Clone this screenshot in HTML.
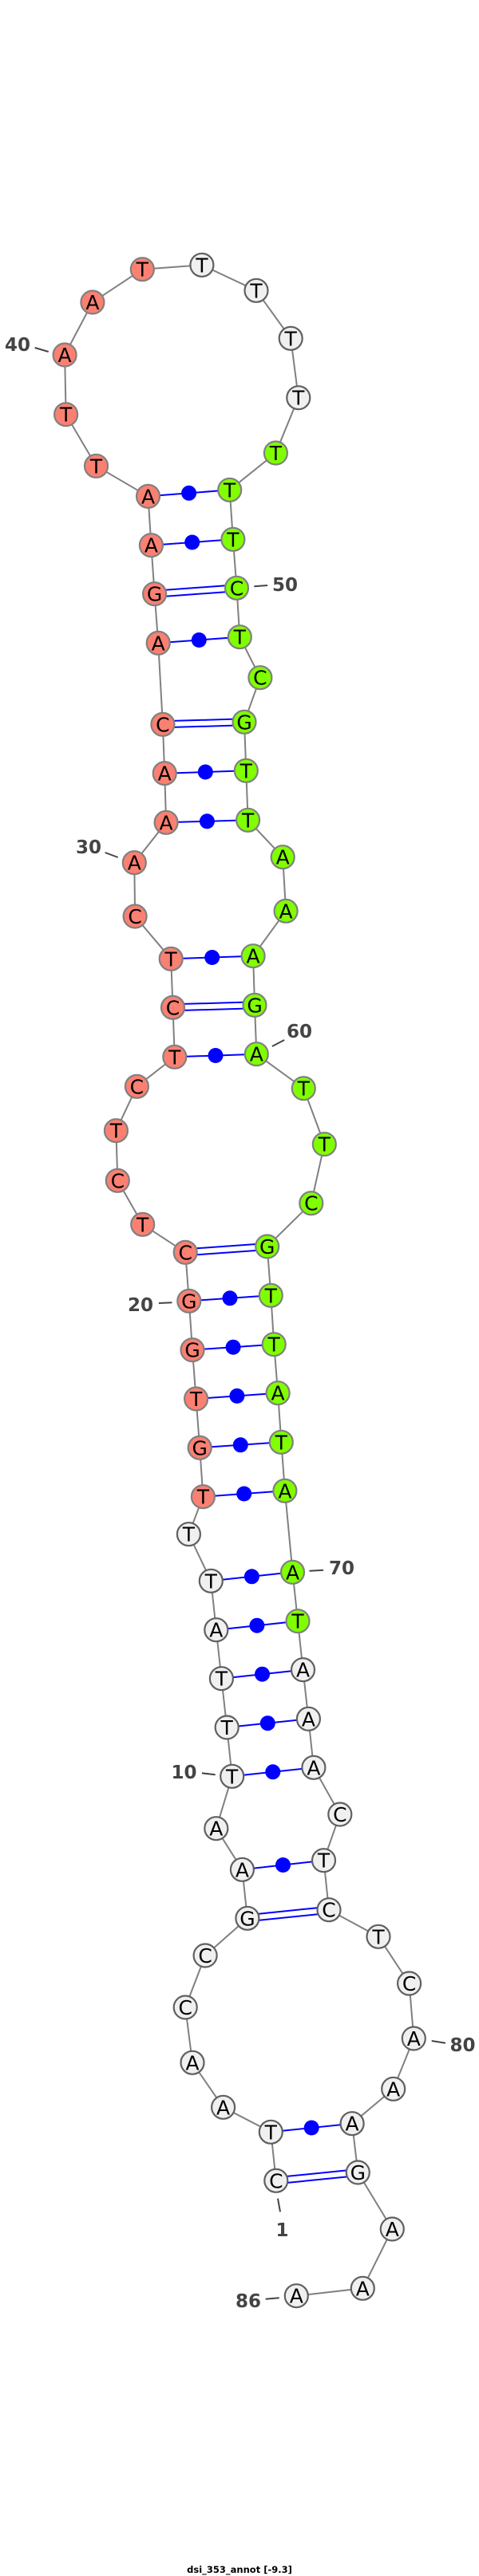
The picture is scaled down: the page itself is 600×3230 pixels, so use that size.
<!DOCTYPE html>
<html><head><meta charset="utf-8"><style>
html,body{margin:0;padding:0;background:#fff}
svg{display:block}
.n{font:25px "DejaVu Sans",sans-serif;text-anchor:middle;fill:#000}
.l{font:bold 23px "DejaVu Sans",sans-serif;text-anchor:middle;fill:#444}
.s circle{fill:#FA8072;stroke:#808080;stroke-width:2.2}
.g circle{fill:#7FFF00;stroke:#808080;stroke-width:2.2}
.w circle{fill:#F0F0F0;stroke:#606060;stroke-width:2.2}
</style></head><body>
<svg xmlns="http://www.w3.org/2000/svg" width="600" height="3230" viewBox="0 0 600 3230">
<rect width="600" height="3230" fill="#fff"/>
<polyline fill="none" stroke="#808080" stroke-width="2" points="345.8,2734.3 339.3,2673.3 279.6,2642.3 241,2586.3 232.2,2517 257.1,2452 309.9,2405.3 303.4,2344.3 270.8,2292.7 290.7,2227.3 284.2,2166 277.4,2104.7 270.8,2043.7 264.3,1982.3 236.4,1923.7 254.4,1876.7 250.2,1815.3 245.6,1754 241,1692.7 236.8,1631.3 232.2,1570.3 178.7,1535.3 147.3,1480.3 145.4,1417.7 171.4,1362.3 218.8,1325.3 216.5,1263.3 214.2,1202.3 169.1,1149 168.3,1081.7 208.1,1031.3 206.2,969.7 203.9,908.3 198.2,806.3 193.6,744.7 189.4,683.7 185.5,622.3 120.5,584.3 82.6,519.7 81.1,445 115.9,379 178.3,337.7 252.9,332.3 321,364.3 364.2,424.3 373.8,498.7 345.4,568 287.7,614.3 291.9,676.3 296.5,737.3 300.3,798.7 325.9,849.7 306,905.3 308.3,966.3 310.6,1028.3 354.2,1074.7 358.1,1142.3 317.1,1198.7 319,1260.3 321.3,1321.7 380.3,1364.7 406.3,1434.7 389.8,1508.7 334.7,1563 339.3,1624.3 343.2,1685.7 348.1,1746.7 352.3,1808.3 356.9,1869.3 366.5,1971.3 373,2032.7 379.5,2093.7 386.4,2155.3 392.9,2216.3 425.8,2275 405.5,2332.7 412,2394.7 474,2428.3 512.6,2487 518.3,2556 492.7,2619.3 441.1,2662.7 448.3,2724 491.3,2795 454.3,2869.3 371.3,2878.7"/>
<g stroke="#0000FF" stroke-width="2" fill="none">
<path d="M339.3 2673.3L441.1 2662.7M303.4 2344.3L405.5 2332.7M290.7 2227.3L392.9 2216.3M284.2 2166L386.4 2155.3M277.4 2104.7L379.5 2093.7M270.8 2043.7L373 2032.7M264.3 1982.3L366.5 1971.3M254.4 1876.7L356.9 1869.3M250.2 1815.3L352.3 1808.3M245.6 1754L348.1 1746.7M241 1692.7L343.2 1685.7M236.8 1631.3L339.3 1624.3M218.8 1325.3L321.3 1321.7M214.2 1202.3L317.1 1198.7M208.1 1031.3L310.6 1028.3M206.2 969.7L308.3 966.3M198.2 806.3L300.3 798.7M189.4 683.7L291.9 676.3M185.5 622.3L287.7 614.3"/>
<path d="M345.4 2730.3L447.9 2720M346.2 2738.3L448.7 2728M309.5 2401.3L411.6 2390.7M310.3 2409.3L412.4 2398.7M232 1566.3L334.5 1559M232.4 1574.3L334.9 1567M216.4 1259.3L318.9 1256.3M216.6 1267.3L319.1 1264.3M203.8 904.3L305.9 901.3M204 912.3L306.1 909.3M193.4 740.7L296.3 733.3M193.8 748.7L296.7 741.3"/>
</g>
<g fill="#0000FF">
<circle cx="390.2" cy="2668" r="9.5"/><circle cx="354.5" cy="2338.5" r="9.5"/><circle cx="341.8" cy="2221.8" r="9.5"/><circle cx="335.3" cy="2160.7" r="9.5"/><circle cx="328.5" cy="2099.2" r="9.5"/><circle cx="321.9" cy="2038.2" r="9.5"/><circle cx="315.4" cy="1976.8" r="9.5"/><circle cx="305.7" cy="1873" r="9.5"/><circle cx="301.3" cy="1811.8" r="9.5"/><circle cx="296.9" cy="1750.4" r="9.5"/><circle cx="292.1" cy="1689.2" r="9.5"/><circle cx="288" cy="1627.8" r="9.5"/><circle cx="270" cy="1323.5" r="9.5"/><circle cx="265.7" cy="1200.5" r="9.5"/><circle cx="259.4" cy="1029.8" r="9.5"/><circle cx="257.3" cy="968" r="9.5"/><circle cx="249.3" cy="802.5" r="9.5"/><circle cx="240.7" cy="680" r="9.5"/><circle cx="236.6" cy="618.3" r="9.5"/>
</g>
<g stroke="#444" stroke-width="2" fill="none">
<path d="M43.7 436L60.7 441M318.3 735.3L335.1 734M131.6 1069L147.7 1075M340.9 1312L356.2 1304M198.9 1634L215.4 1633.3M387.5 1969.7L405.1 1968.7M252.9 2223.3L269.7 2225.3M540.7 2559L558 2561.7M348 2756.7L351 2773.3M332.7 2882.7L349.7 2881.3"/>
</g>
<g class="w">
<circle cx="345.8" cy="2734.3" r="14.5"/><circle cx="339.3" cy="2673.3" r="14.5"/><circle cx="279.6" cy="2642.3" r="14.5"/><circle cx="241" cy="2586.3" r="14.5"/><circle cx="232.2" cy="2517" r="14.5"/><circle cx="257.1" cy="2452" r="14.5"/><circle cx="309.9" cy="2405.3" r="14.5"/><circle cx="303.4" cy="2344.3" r="14.5"/><circle cx="270.8" cy="2292.7" r="14.5"/><circle cx="290.7" cy="2227.3" r="14.5"/><circle cx="284.2" cy="2166" r="14.5"/><circle cx="277.4" cy="2104.7" r="14.5"/><circle cx="270.8" cy="2043.7" r="14.5"/><circle cx="264.3" cy="1982.3" r="14.5"/><circle cx="236.4" cy="1923.7" r="14.5"/>
<circle cx="252.9" cy="332.3" r="14.5"/><circle cx="321" cy="364.3" r="14.5"/><circle cx="364.2" cy="424.3" r="14.5"/><circle cx="373.8" cy="498.7" r="14.5"/>
<circle cx="379.5" cy="2093.7" r="14.5"/><circle cx="386.4" cy="2155.3" r="14.5"/><circle cx="392.9" cy="2216.3" r="14.5"/><circle cx="425.8" cy="2275" r="14.5"/><circle cx="405.5" cy="2332.7" r="14.5"/><circle cx="412" cy="2394.7" r="14.5"/><circle cx="474" cy="2428.3" r="14.5"/><circle cx="512.6" cy="2487" r="14.5"/><circle cx="518.3" cy="2556" r="14.5"/><circle cx="492.7" cy="2619.3" r="14.5"/><circle cx="441.1" cy="2662.7" r="14.5"/><circle cx="448.3" cy="2724" r="14.5"/><circle cx="491.3" cy="2795" r="14.5"/><circle cx="454.3" cy="2869.3" r="14.5"/><circle cx="371.3" cy="2878.7" r="14.5"/>
</g>
<g class="s">
<circle cx="254.4" cy="1876.7" r="14.5"/><circle cx="250.2" cy="1815.3" r="14.5"/><circle cx="245.6" cy="1754" r="14.5"/><circle cx="241" cy="1692.7" r="14.5"/><circle cx="236.8" cy="1631.3" r="14.5"/><circle cx="232.2" cy="1570.3" r="14.5"/><circle cx="178.7" cy="1535.3" r="14.5"/><circle cx="147.3" cy="1480.3" r="14.5"/><circle cx="145.4" cy="1417.7" r="14.5"/><circle cx="171.4" cy="1362.3" r="14.5"/><circle cx="218.8" cy="1325.3" r="14.5"/><circle cx="216.5" cy="1263.3" r="14.5"/><circle cx="214.2" cy="1202.3" r="14.5"/><circle cx="169.1" cy="1149" r="14.5"/><circle cx="168.3" cy="1081.7" r="14.5"/><circle cx="208.1" cy="1031.3" r="14.5"/><circle cx="206.2" cy="969.7" r="14.5"/><circle cx="203.9" cy="908.3" r="14.5"/><circle cx="198.2" cy="806.3" r="14.5"/><circle cx="193.6" cy="744.7" r="14.5"/><circle cx="189.4" cy="683.7" r="14.5"/><circle cx="185.5" cy="622.3" r="14.5"/><circle cx="120.5" cy="584.3" r="14.5"/><circle cx="82.6" cy="519.7" r="14.5"/><circle cx="81.1" cy="445" r="14.5"/><circle cx="115.9" cy="379" r="14.5"/><circle cx="178.3" cy="337.7" r="14.5"/>
</g>
<g class="g">
<circle cx="345.4" cy="568" r="14.5"/><circle cx="287.7" cy="614.3" r="14.5"/><circle cx="291.9" cy="676.3" r="14.5"/><circle cx="296.5" cy="737.3" r="14.5"/><circle cx="300.3" cy="798.7" r="14.5"/><circle cx="325.9" cy="849.7" r="14.5"/><circle cx="306" cy="905.3" r="14.5"/><circle cx="308.3" cy="966.3" r="14.5"/><circle cx="310.6" cy="1028.3" r="14.5"/><circle cx="354.2" cy="1074.7" r="14.5"/><circle cx="358.1" cy="1142.3" r="14.5"/><circle cx="317.1" cy="1198.7" r="14.5"/><circle cx="319" cy="1260.3" r="14.5"/><circle cx="321.3" cy="1321.7" r="14.5"/><circle cx="380.3" cy="1364.7" r="14.5"/><circle cx="406.3" cy="1434.7" r="14.5"/><circle cx="389.8" cy="1508.7" r="14.5"/><circle cx="334.7" cy="1563" r="14.5"/><circle cx="339.3" cy="1624.3" r="14.5"/><circle cx="343.2" cy="1685.7" r="14.5"/><circle cx="348.1" cy="1746.7" r="14.5"/><circle cx="352.3" cy="1808.3" r="14.5"/><circle cx="356.9" cy="1869.3" r="14.5"/><circle cx="366.5" cy="1971.3" r="14.5"/><circle cx="373" cy="2032.7" r="14.5"/>
</g>
<g class="n">
<text class="n" x="345.8" y="2743.3">C</text><text class="n" x="339.3" y="2682.3">T</text><text class="n" x="279.6" y="2651.3">A</text><text class="n" x="241" y="2595.3">A</text><text class="n" x="232.2" y="2526">C</text><text class="n" x="257.1" y="2461">C</text><text class="n" x="309.9" y="2414.3">G</text><text class="n" x="303.4" y="2353.3">A</text><text class="n" x="270.8" y="2301.7">A</text><text class="n" x="290.7" y="2236.3">T</text>
<text class="n" x="284.2" y="2175">T</text><text class="n" x="277.4" y="2113.7">T</text><text class="n" x="270.8" y="2052.7">A</text><text class="n" x="264.3" y="1991.3">T</text><text class="n" x="236.4" y="1932.7">T</text><text class="n" x="254.4" y="1885.7">T</text><text class="n" x="250.2" y="1824.3">G</text><text class="n" x="245.6" y="1763">T</text><text class="n" x="241" y="1701.7">G</text><text class="n" x="236.8" y="1640.3">G</text>
<text class="n" x="232.2" y="1579.3">C</text><text class="n" x="178.7" y="1544.3">T</text><text class="n" x="147.3" y="1489.3">C</text><text class="n" x="145.4" y="1426.7">T</text><text class="n" x="171.4" y="1371.3">C</text><text class="n" x="218.8" y="1334.3">T</text><text class="n" x="216.5" y="1272.3">C</text><text class="n" x="214.2" y="1211.3">T</text><text class="n" x="169.1" y="1158">C</text><text class="n" x="168.3" y="1090.7">A</text>
<text class="n" x="208.1" y="1040.3">A</text><text class="n" x="206.2" y="978.7">A</text><text class="n" x="203.9" y="917.3">C</text><text class="n" x="198.2" y="815.3">A</text><text class="n" x="193.6" y="753.7">G</text><text class="n" x="189.4" y="692.7">A</text><text class="n" x="185.5" y="631.3">A</text><text class="n" x="120.5" y="593.3">T</text><text class="n" x="82.6" y="528.7">T</text><text class="n" x="81.1" y="454">A</text>
<text class="n" x="115.9" y="388">A</text><text class="n" x="178.3" y="346.7">T</text><text class="n" x="252.9" y="341.3">T</text><text class="n" x="321" y="373.3">T</text><text class="n" x="364.2" y="433.3">T</text><text class="n" x="373.8" y="507.7">T</text><text class="n" x="345.4" y="577">T</text><text class="n" x="287.7" y="623.3">T</text><text class="n" x="291.9" y="685.3">T</text><text class="n" x="296.5" y="746.3">C</text>
<text class="n" x="300.3" y="807.7">T</text><text class="n" x="325.9" y="858.7">C</text><text class="n" x="306" y="914.3">G</text><text class="n" x="308.3" y="975.3">T</text><text class="n" x="310.6" y="1037.3">T</text><text class="n" x="354.2" y="1083.7">A</text><text class="n" x="358.1" y="1151.3">A</text><text class="n" x="317.1" y="1207.7">A</text><text class="n" x="319" y="1269.3">G</text><text class="n" x="321.3" y="1330.7">A</text>
<text class="n" x="380.3" y="1373.7">T</text><text class="n" x="406.3" y="1443.7">T</text><text class="n" x="389.8" y="1517.7">C</text><text class="n" x="334.7" y="1572">G</text><text class="n" x="339.3" y="1633.3">T</text><text class="n" x="343.2" y="1694.7">T</text><text class="n" x="348.1" y="1755.7">A</text><text class="n" x="352.3" y="1817.3">T</text><text class="n" x="356.9" y="1878.3">A</text><text class="n" x="366.5" y="1980.3">A</text>
<text class="n" x="373" y="2041.7">T</text><text class="n" x="379.5" y="2102.7">A</text><text class="n" x="386.4" y="2164.3">A</text><text class="n" x="392.9" y="2225.3">A</text><text class="n" x="425.8" y="2284">C</text><text class="n" x="405.5" y="2341.7">T</text><text class="n" x="412" y="2403.7">C</text><text class="n" x="474" y="2437.3">T</text><text class="n" x="512.6" y="2496">C</text><text class="n" x="518.3" y="2565">A</text>
<text class="n" x="492.7" y="2628.3">A</text><text class="n" x="441.1" y="2671.7">A</text><text class="n" x="448.3" y="2733">G</text><text class="n" x="491.3" y="2804">A</text><text class="n" x="454.3" y="2878.3">A</text><text class="n" x="371.3" y="2887.7">A</text>
</g>
<text class="l" x="22" y="440">40</text>
<text class="l" x="357" y="741">50</text>
<text class="l" x="111" y="1070">30</text>
<text class="l" x="375" y="1301">60</text>
<text class="l" x="176" y="1644">20</text>
<text class="l" x="428" y="1974">70</text>
<text class="l" x="230.5" y="2230">10</text>
<text class="l" x="579.5" y="2572">80</text>
<text class="l" x="353.5" y="2804">1</text>
<text class="l" x="311" y="2893">86</text>
<text x="300" y="3226" text-anchor="middle" style="font:bold 11.5px 'DejaVu Sans',sans-serif;fill:#000">dsi_353_annot [-9.3]</text>
</svg>
</body></html>
